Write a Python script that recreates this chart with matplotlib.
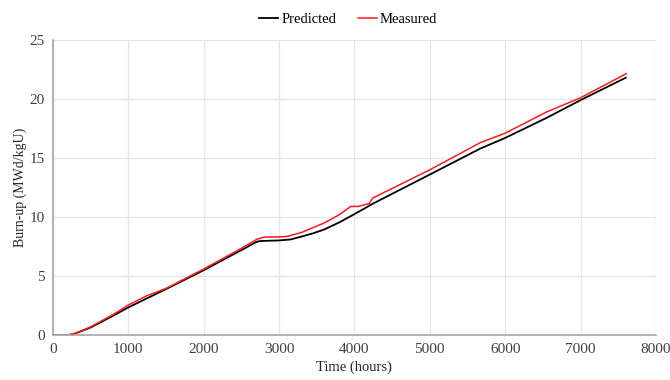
import matplotlib
matplotlib.use("Agg")
import matplotlib.pyplot as plt

# Burn-up history: predicted vs measured
t_pred = [0, 200, 300, 500, 800, 1000, 1500, 2000, 2500, 2700, 2750, 3000, 3150,
          3300, 3450, 3600, 3800, 4000, 4250, 5000, 5670, 6000, 6550, 7000, 7600]
bu_pred = [0, 0, 0.15, 0.65, 1.65, 2.35, 3.9, 5.5, 7.2, 7.9, 7.97, 8.02, 8.1,
           8.35, 8.62, 8.95, 9.55, 10.25, 11.15, 13.6, 15.8, 16.7, 18.4, 19.9, 21.8]

t_meas = [0, 200, 300, 500, 800, 1000, 1250, 1500, 2000, 2500, 2700, 2800, 3000, 3100,
          3300, 3600, 3800, 3950, 4050, 4200, 4240, 5000, 5670, 6000, 6550, 7000, 7610]
bu_meas = [0, 0, 0.15, 0.7, 1.75, 2.55, 3.35, 3.95, 5.6, 7.35, 8.1, 8.3, 8.32, 8.35,
           8.7, 9.5, 10.2, 10.9, 10.9, 11.15, 11.6, 14.0, 16.3, 17.1, 18.9, 20.1, 22.15]

x_ticks = [0, 1000, 2000, 3000, 4000, 5000, 6000, 7000, 8000]
y_ticks = [0, 5, 10, 15, 20, 25]

plt.rcParams['font.family'] = ['Liberation Serif', 'DejaVu Serif']

fig = plt.figure(figsize=(6.7, 3.8), dpi=100)
ax = fig.add_axes([0.079, 0.118, 0.900, 0.777])

ax.plot(t_pred, bu_pred, color='black', lw=1.3, label='Predicted')
ax.plot(t_meas, bu_meas, color='#ff1a1a', lw=1.1, label='Measured')

ax.set_xlim(0, 8000)
ax.set_ylim(0, 25)
ax.set_xticks(x_ticks)
ax.set_yticks(y_ticks)
ax.grid(True, color='#e6e6e6', lw=0.9)
ax.set_axisbelow(True)
for s in ['top', 'right']:
    ax.spines[s].set_visible(False)
for s in ['left', 'bottom']:
    ax.spines[s].set_color('#a6a6a6')
    ax.spines[s].set_linewidth(1.2)
ax.tick_params(length=0, labelsize=11, colors='#404040', pad=6)
ax.set_xlabel('Time (hours)', fontsize=10.5, color='#262626', labelpad=3)
ax.set_ylabel('Burn-up (MWd/kgU)', fontsize=10, color='#262626', labelpad=2)

fig.legend(loc='upper center', bbox_to_anchor=(0.52, 1.0), ncol=2, frameon=False,
           fontsize=10.5, handlelength=1.3, handletextpad=0.2, columnspacing=1.5)

fig.savefig('out.png', dpi=100)
